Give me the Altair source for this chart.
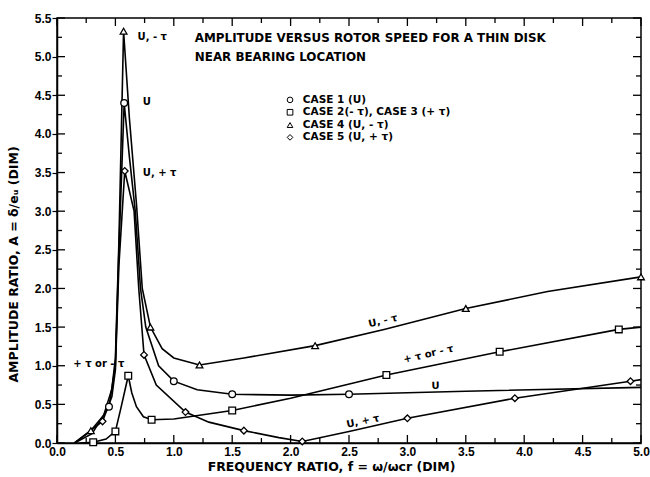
import altair as alt
import pandas as pd

# ---------------- data ----------------
CASES = ["CASE 1 (U)", "CASE 2(- τ), CASE 3 (+ τ)", "CASE 4 (U, - τ)", "CASE 5 (U, + τ)"]
SHAPES = ["circle", "square", "triangle-up", "diamond"]

# Case 1 (U) - circles
C1_X = [0.15, 0.30, 0.445, 0.50, 0.53, 0.575, 0.62, 0.67, 0.715, 0.76, 0.87, 1.00, 1.20, 1.50, 2.00, 2.50, 3.50, 5.00]
C1_Y = [0.00, 0.12, 0.47, 1.00, 2.50, 4.40, 3.70, 3.00, 2.00, 1.50, 1.00, 0.80, 0.69, 0.63, 0.62, 0.63, 0.67, 0.72]
C1_M = [0, 0, 1, 0, 0, 1, 0, 0, 0, 0, 0, 1, 0, 1, 0, 1, 0, 0]

# Case 2 / 3 (+tau or -tau) - squares
C2_X = [0.20, 0.31, 0.42, 0.50, 0.55, 0.61, 0.64, 0.68, 0.74, 0.81, 1.00, 1.50, 2.00, 2.82, 3.79, 4.81, 5.00]
C2_Y = [0.00, 0.01, 0.05, 0.15, 0.47, 0.87, 0.65, 0.47, 0.34, 0.30, 0.31, 0.42, 0.58, 0.88, 1.18, 1.47, 1.50]
C2_M = [0, 1, 0, 1, 0, 1, 0, 0, 0, 1, 0, 1, 0, 1, 1, 1, 0]

# Case 4 (U, -tau) - triangles
C4_X = [0.15, 0.29, 0.40, 0.47, 0.50, 0.53, 0.57, 0.62, 0.68, 0.73, 0.80, 0.90, 1.00, 1.22, 1.60, 2.21, 2.80, 3.50, 4.20, 5.00]
C4_Y = [0.00, 0.16, 0.36, 0.70, 1.10, 2.60, 5.33, 4.20, 3.10, 2.00, 1.50, 1.22, 1.10, 1.01, 1.10, 1.26, 1.47, 1.74, 1.96, 2.15]
C4_M = [0, 1, 0, 0, 0, 0, 1, 0, 0, 0, 1, 0, 0, 1, 0, 1, 0, 1, 0, 1]

# Case 5 (U, +tau) - diamonds
C5_X = [0.15, 0.39, 0.47, 0.50, 0.53, 0.58, 0.66, 0.70, 0.745, 0.85, 1.10, 1.30, 1.60, 1.90, 2.10, 2.50, 3.00, 3.92, 4.91, 5.00]
C5_Y = [0.00, 0.28, 0.60, 0.95, 2.30, 3.52, 3.00, 2.00, 1.14, 0.75, 0.40, 0.27, 0.16, 0.07, 0.02, 0.15, 0.32, 0.58, 0.80, 0.82]
C5_M = [0, 1, 0, 0, 0, 1, 0, 0, 1, 0, 1, 0, 1, 0, 1, 0, 1, 1, 1, 0]

X_DOMAIN = [0.0, 5.0]
Y_DOMAIN = [0.0, 5.5]
X_MAJOR = [0.0, 0.5, 1.0, 1.5, 2.0, 2.5, 3.0, 3.5, 4.0, 4.5, 5.0]
Y_MAJOR = [0.0, 0.5, 1.0, 1.5, 2.0, 2.5, 3.0, 3.5, 4.0, 4.5, 5.0, 5.5]
X_MINOR = [0.25, 0.75, 1.25, 1.75, 2.25, 2.75, 3.25, 3.75, 4.25, 4.75]
Y_MINOR = [0.25, 0.75, 1.25, 1.75, 2.25, 2.75, 3.25, 3.75, 4.25, 4.75, 5.25]

TITLE_LINES = ["AMPLITUDE VERSUS ROTOR SPEED FOR A THIN DISK", "NEAR BEARING LOCATION"]
TITLE_X = [1.18, 1.18]
TITLE_Y = [5.24, 4.99]

# legend block (key drawn inside the plot, as in the reference)
LEG_SYM_X = 1.995
LEG_TXT_X = 2.105
LEG_Y = [4.44, 4.28, 4.115, 3.955]

ANN_TEXT = ["U,  -  τ", "U", "U,  +  τ", "+  τ  or  -  τ"]
ANN_X = [0.69, 0.735, 0.735, 0.14]
ANN_Y = [5.25, 4.41, 3.50, 1.02]

ROT_TEXT = ["U,  -  τ", "+  τ  or  -  τ", "U", "U,  +  τ"]
ROT_X = [2.79, 3.18, 3.24, 2.62]
ROT_Y = [1.58, 1.15, 0.74, 0.28]
ROT_ANGLE = [347, 347, 359, 348]

# ---------------- build tables ----------------
rows = []
for name, xs, ys, ms in zip(CASES, [C1_X, C2_X, C4_X, C5_X], [C1_Y, C2_Y, C4_Y, C5_Y],
                            [C1_M, C2_M, C4_M, C5_M]):
    for i, (xv, yv, mv) in enumerate(zip(xs, ys, ms)):
        rows.append({"case": name, "x": xv, "y": yv, "mark": mv, "order": i})
df = pd.DataFrame(rows)

leg_sym_df = pd.DataFrame({"case": CASES, "x": [LEG_SYM_X] * 4, "y": LEG_Y})
leg_txt_df = pd.DataFrame({"case": CASES, "x": [LEG_TXT_X] * 4, "y": LEG_Y})
title_df = pd.DataFrame({"t": TITLE_LINES, "x": TITLE_X, "y": TITLE_Y})
ann_df = pd.DataFrame({"t": ANN_TEXT, "x": ANN_X, "y": ANN_Y})
rot_df = pd.DataFrame({"t": ROT_TEXT, "x": ROT_X, "y": ROT_Y, "a": ROT_ANGLE})

W, H = 584, 425
FONT = "Liberation Sans"
WIDE = "DejaVu Sans"

xscale = alt.Scale(domain=X_DOMAIN, nice=False, zero=False)
yscale = alt.Scale(domain=Y_DOMAIN, nice=False, zero=False)
shape_scale = alt.Scale(domain=CASES, range=SHAPES)

x_enc = alt.X("x:Q", scale=xscale, axis=alt.Axis(
    values=X_MAJOR, format=".1f", ticks=False, grid=False,
    domainColor="black", domainWidth=1.5,
    labelFont=FONT, labelFontWeight="bold", labelFontSize=12, labelColor="black",
    labelPadding=3, labelFlush=False,
    title="FREQUENCY RATIO, f = ω/ωcr (DIM)", titleFont=WIDE, titleFontSize=12.5,
    titleFontWeight="bold", titleColor="black", titleX=274, titleY=23,
    titleBaseline="middle", titleAlign="center"))
y_enc = alt.Y("y:Q", scale=yscale, axis=alt.Axis(
    values=Y_MAJOR, format=".1f", ticks=True, tickSize=5, tickColor="black", tickWidth=1.2,
    grid=False, domainColor="black", domainWidth=1.5,
    labelFont=FONT, labelFontWeight="bold", labelFontSize=12, labelColor="black",
    labelPadding=1, labelFlush=False,
    title="AMPLITUDE RATIO, A = δ/eᵤ (DIM)", titleFont=WIDE, titleFontSize=12.5,
    titleFontWeight="bold", titleColor="black", titleX=-44, titleY=246,
    titleBaseline="middle", titleAlign="center", titleAngle=270))


# inward tick marks on all four frame edges: short stroke symbols placed through the scales
def tick_layer(d, path, size):
    return alt.Chart(d).mark_point(shape=path, filled=False, color="black", strokeWidth=1.3,
                                   size=size, opacity=1).encode(x=x_enc, y=y_enc)


def x_ticks(values, size):
    n = len(values)
    bottom = pd.DataFrame({"x": values, "y": [Y_DOMAIN[0]] * n})
    top = pd.DataFrame({"x": values, "y": [Y_DOMAIN[1]] * n})
    return [tick_layer(bottom, "M0,0L0,-2", size), tick_layer(top, "M0,0L0,2", size)]


def y_ticks(values, size):
    n = len(values)
    left = pd.DataFrame({"y": values, "x": [X_DOMAIN[0]] * n})
    right = pd.DataFrame({"y": values, "x": [X_DOMAIN[1]] * n})
    return [tick_layer(left, "M0,0L2,0", size), tick_layer(right, "M0,0L-2,0", size)]


# path length = sqrt(size) for a 0..2 path -> 8 px majors, 5 px minors
tick_layers = x_ticks(X_MAJOR, 64) + x_ticks(X_MINOR, 25) + y_ticks(Y_MAJOR, 64) + y_ticks(Y_MINOR, 25)

lines = alt.Chart(df).mark_line(color="black", strokeWidth=1.6).encode(
    x=x_enc, y=y_enc, detail="case:N", order="order:Q")

points = alt.Chart(df).transform_filter("datum.mark == 1").mark_point(
    filled=True, color="white", stroke="black", strokeWidth=1.3, size=45, opacity=1
).encode(x=x_enc, y=y_enc, shape=alt.Shape("case:N", scale=shape_scale, legend=None))

leg_sym = alt.Chart(leg_sym_df).mark_point(
    filled=True, color="white", stroke="black", strokeWidth=1, size=32, opacity=1
).encode(x=x_enc, y=y_enc, shape=alt.Shape("case:N", scale=shape_scale, legend=None))

leg_txt = alt.Chart(leg_txt_df).mark_text(
    align="left", baseline="middle", font=WIDE, fontSize=10.5, fontWeight="bold", color="black"
).encode(x=x_enc, y=y_enc, text="case:N")

title_txt = alt.Chart(title_df).mark_text(
    align="left", baseline="middle", font=WIDE, fontSize=11.9, fontWeight="bold", color="black"
).encode(x=x_enc, y=y_enc, text="t:N")

ann_left = alt.Chart(ann_df).mark_text(
    align="left", baseline="middle", font=WIDE, fontSize=10, fontWeight="bold", color="black"
).encode(x=x_enc, y=y_enc, text="t:N")

ann_rot = alt.Chart(rot_df).mark_text(
    align="center", baseline="middle", font=WIDE, fontSize=10, fontWeight="bold",
    color="black"
).encode(x=x_enc, y=y_enc, text="t:N", angle=alt.Angle("a:Q", scale=None))

chart = alt.layer(*tick_layers, lines, points, leg_sym, leg_txt, title_txt, ann_left, ann_rot).properties(
    width=W, height=H,
    padding={"left": 57, "top": 18, "right": 9, "bottom": 34},
    autosize=alt.AutoSizeParams(type="none"),
    background="white",
).configure_view(stroke="black", strokeWidth=1.5)

chart.save("out.html", embed_options={"renderer": "svg", "actions": False})
